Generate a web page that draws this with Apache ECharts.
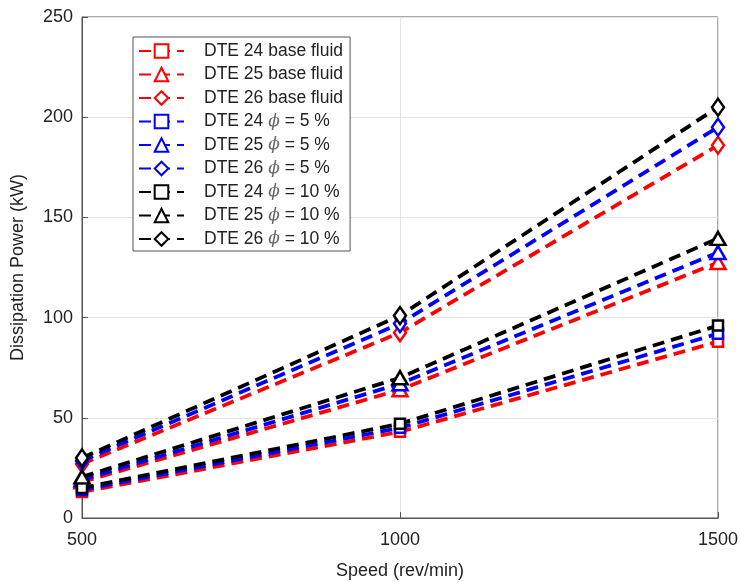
<!DOCTYPE html>
<html><head><meta charset="utf-8">
<script src="https://cdn.jsdelivr.net/npm/echarts@6/dist/echarts.min.js"></script>
<style>html,body{margin:0;padding:0;background:#fff}#c{width:740px;height:583px}</style>
</head><body><div id="c"></div>
<script>
const speeds = [500, 1000, 1500];
const xTicks = [500, 1000, 1500];
const yTicks = [0, 50, 100, 150, 200, 250];
const names = ['DTE 24 base fluid','DTE 25 base fluid','DTE 26 base fluid','DTE 24 \u03d5 = 5 %','DTE 25 \u03d5 = 5 %','DTE 26 \u03d5 = 5 %','DTE 24 \u03d5 = 10 %','DTE 25 \u03d5 = 10 %','DTE 26 \u03d5 = 10 %'];
const dte24Base = [13, 43, 88];
const dte25Base = [18, 64, 127.5];
const dte26Base = [27, 92.5, 186];
const dte24P5 = [14, 45, 92];
const dte25P5 = [19, 67, 132.5];
const dte26P5 = [28.5, 97, 195];
const dte24P10 = [15, 47, 96];
const dte25P10 = [20.5, 70, 139.5];
const dte26P10 = [30, 101, 205];
const seriesData = [dte24Base, dte25Base, dte26Base, dte24P5, dte25P5, dte26P5, dte24P10, dte25P10, dte26P10];
const colors = ['#ff0000','#ff0000','#ff0000','#0000ff','#0000ff','#0000ff','#000000','#000000','#000000'];
const symbols = ['rect','triangle','diamond','rect','triangle','diamond','rect','triangle','diamond'];
const sizes = [[10,10],[15,13],[12,17],[10,10],[15,13],[12,17],[10,10],[15,13],[12,17]];

const chart = echarts.init(document.getElementById('c'));
const series = names.map((n,i)=>({
  name: n, type: 'line',
  data: speeds.map((s,j)=>[s, seriesData[i][j]]),
  symbol: symbols[i], symbolSize: sizes[i],
  lineStyle: {color: colors[i], width: 3.8, type: [12, 7]},
  itemStyle: {color: '#fff', borderColor: colors[i], borderWidth: 2.5},
  z: 2 + i
}));
chart.setOption({
  animation: false,
  backgroundColor: '#fff',
  grid: {left: 82, right: 22, top: 17, bottom: 65, show: true, borderColor: '#555', borderWidth: 1,
    outerBoundsMode: 'none', containLabel: false},
  xAxis: {
    type: 'value', min: 500, max: 1500, interval: 500,
    name: 'Speed (rev/min)', nameLocation: 'middle', nameGap: 44,
    nameTextStyle: {fontFamily: 'Liberation Sans', fontSize: 18, color: '#222'},
    axisLine: {lineStyle: {color: '#555'}},
    axisTick: {inside: true, length: 6, lineStyle: {color: '#555'}},
    axisLabel: {fontFamily: 'Liberation Sans', fontSize: 18, color: '#222', margin: 13,
      formatter: v => String(v)},
    splitLine: {show: true, lineStyle: {color: '#e4e4e4'}}
  },
  yAxis: {
    type: 'value', min: 0, max: 250, interval: 50,
    name: 'Dissipation Power (kW)', nameLocation: 'middle', nameGap: 55,
    nameTextStyle: {fontFamily: 'Liberation Sans', fontSize: 18, color: '#222'},
    axisLine: {show: true, lineStyle: {color: '#555'}},
    axisTick: {inside: true, length: 6, lineStyle: {color: '#555'}},
    axisLabel: {fontFamily: 'Liberation Sans', fontSize: 18, color: '#222', margin: 9},
    splitLine: {show: true, lineStyle: {color: '#e4e4e4'}}
  },
  legend: {
    orient: 'vertical', left: 133, top: 37,
    backgroundColor: '#fff', borderColor: '#555', borderWidth: 1,
    padding: [5, 7, 3, 5],
    itemWidth: 45, itemHeight: 17, itemGap: 5.5,
    textStyle: {fontFamily: 'Liberation Sans', fontSize: 17.5, color: '#222', lineHeight: 17, padding: [0, 0, 0, 15],
      rich: {p: {fontFamily: 'DejaVu Serif', fontStyle: 'italic', fontSize: 17, color: '#666', lineHeight: 17}}},
    formatter: function(n){ return n.replace('\u03d5', '{p|\u03d5}'); },
    data: names
  },
  series: series
});
</script></body></html>
